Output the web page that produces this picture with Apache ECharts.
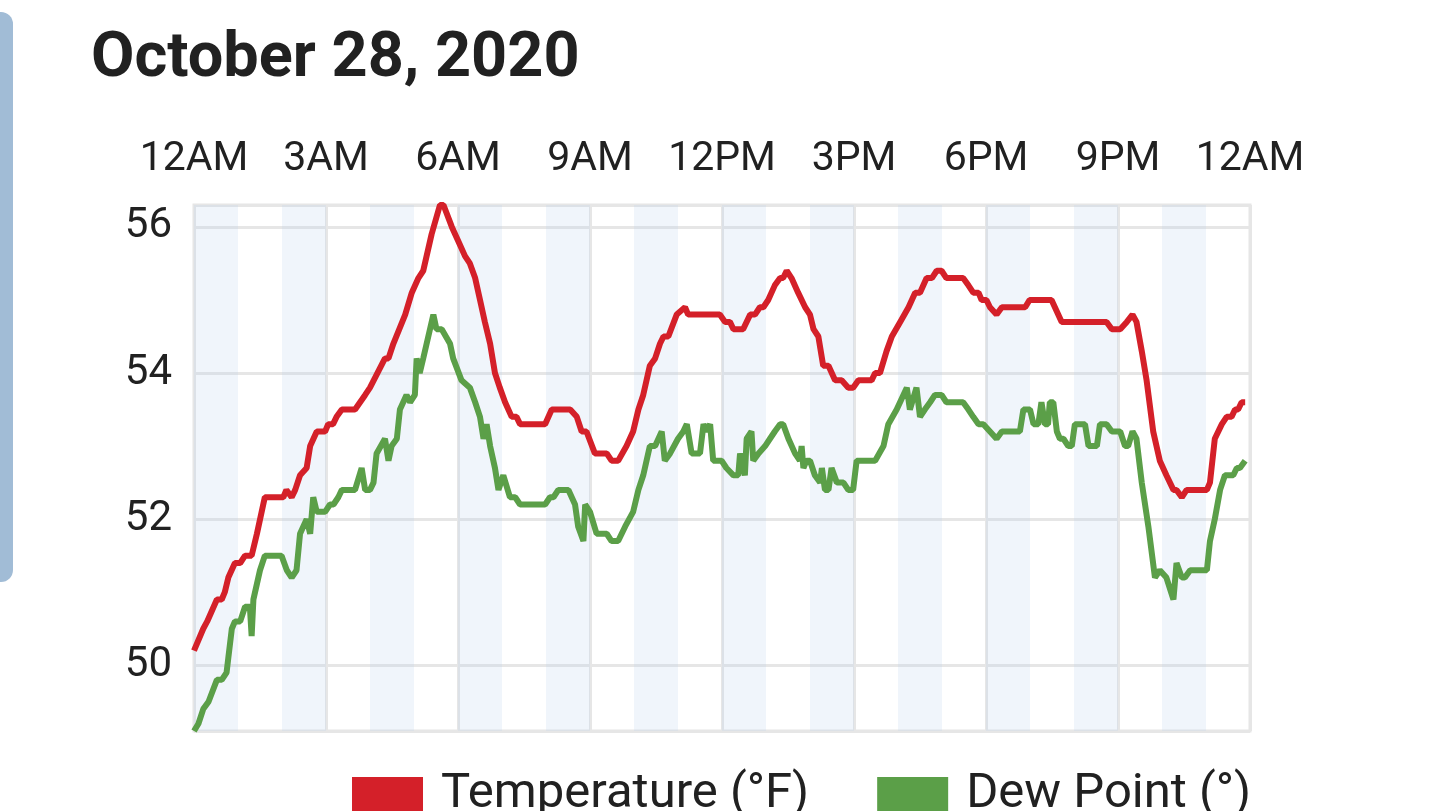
<!DOCTYPE html>
<html>
<head>
<meta charset="utf-8">
<title>October 28, 2020</title>
<script src="https://cdn.jsdelivr.net/npm/echarts@6/dist/echarts.min.js"></script>
<style>
  html, body { margin: 0; padding: 0; background: #fff; }
  #chart { width: 1440px; height: 811px; }
</style>
</head>
<body>
<div id="chart"></div>
<script>
// hours since midnight
const tempHours = [0, 0.21, 0.3, 0.52, 0.63, 0.7, 0.78, 0.93, 1.05, 1.16, 1.31, 1.43, 1.61, 2.03, 2.1, 2.22, 2.3, 2.41,
  2.56, 2.64, 2.79, 2.98, 3.05, 3.16, 3.24, 3.36, 3.66, 3.89, 4.0, 4.34, 4.42, 4.53, 4.8, 4.95, 5.1, 5.21, 5.4, 5.59,
  5.67, 5.86, 6.01, 6.16, 6.27, 6.39, 6.5, 6.61, 6.73, 6.84, 6.95, 7.07, 7.22, 7.33, 7.41, 7.98, 8.13, 8.55, 8.7,
  8.81, 8.92, 9.11, 9.38, 9.49, 9.64, 9.83, 9.98, 10.1, 10.21, 10.36, 10.48, 10.59, 10.67, 10.78, 10.97, 11.16,
  11.23, 11.95, 12.07, 12.18, 12.26, 12.48, 12.64, 12.75, 12.86, 12.94, 13.05, 13.2, 13.32, 13.39, 13.47, 13.58,
  13.73, 13.89, 14.0, 14.08, 14.19, 14.3, 14.42, 14.57, 14.72, 14.87, 14.98, 15.1, 15.4, 15.48, 15.59, 15.74,
  15.86, 16.05, 16.24, 16.39, 16.5, 16.65, 16.77, 16.88, 16.99, 17.1, 17.48, 17.6, 17.71, 17.83, 17.9, 18.01,
  18.09, 18.24, 18.36, 18.89, 18.99, 19.49, 19.72, 20.74, 20.86, 21.05, 21.2, 21.33, 21.42, 21.54, 21.65, 21.8,
  21.95, 22.1, 22.26, 22.33, 22.45, 22.56, 23.02, 23.09, 23.2, 23.36, 23.47, 23.58, 23.66, 23.73, 23.81, 23.89];
const tempValues = [50.2, 50.5, 50.6, 50.9, 50.9, 51.0, 51.2, 51.4, 51.4, 51.5, 51.5, 51.8, 52.3, 52.3, 52.4, 52.3, 52.4, 52.6,
  52.7, 53.0, 53.2, 53.2, 53.3, 53.3, 53.4, 53.5, 53.5, 53.7, 53.8, 54.2, 54.2, 54.4, 54.8, 55.1, 55.3, 55.4, 55.9, 56.3,
  56.3, 56.0, 55.8, 55.6, 55.5, 55.3, 55.0, 54.7, 54.4, 54.0, 53.8, 53.6, 53.4, 53.4, 53.3, 53.3, 53.5, 53.5, 53.4,
  53.2, 53.2, 52.9, 52.9, 52.8, 52.8, 53.0, 53.2, 53.5, 53.7, 54.1, 54.2, 54.4, 54.5, 54.5, 54.8, 54.9,
  54.8, 54.8, 54.7, 54.7, 54.6, 54.6, 54.8, 54.8, 54.9, 54.9, 55.0, 55.2, 55.3, 55.3, 55.4, 55.3,
  55.1, 54.9, 54.8, 54.6, 54.5, 54.1, 54.1, 53.9, 53.9, 53.8, 53.8, 53.9, 53.9, 54.0, 54.0, 54.3,
  54.5, 54.7, 54.9, 55.1, 55.1, 55.3, 55.3, 55.4, 55.4, 55.3, 55.3, 55.2, 55.1, 55.1, 55.0, 55.0,
  54.9, 54.8, 54.9, 54.9, 55.0, 55.0, 54.7, 54.7, 54.6, 54.6, 54.7, 54.8, 54.7, 54.3, 53.9, 53.2,
  52.8, 52.6, 52.4, 52.4, 52.3, 52.4, 52.4, 52.5, 53.1, 53.3, 53.4, 53.4, 53.5, 53.5, 53.6, 53.6];

const dewHours = [0, 0.1, 0.21, 0.33, 0.52, 0.63, 0.74, 0.78, 0.86, 0.93, 1.05, 1.16, 1.27, 1.31, 1.35, 1.5, 1.61, 1.99,
  2.11, 2.22, 2.33, 2.41, 2.56, 2.64, 2.71, 2.79, 2.98, 3.09, 3.17, 3.28, 3.36, 3.66, 3.81, 3.89, 4.0, 4.08, 4.15,
  4.34, 4.42, 4.49, 4.61, 4.68, 4.83, 4.91, 5.02, 5.06, 5.13, 5.21, 5.44, 5.51, 5.63, 5.82, 5.89, 6.08, 6.27,
  6.39, 6.5, 6.58, 6.65, 6.73, 6.84, 6.92, 7.03, 7.18, 7.3, 7.41, 7.98, 8.09, 8.17, 8.28, 8.51, 8.66, 8.73, 8.85,
  8.89, 9.0, 9.15, 9.38, 9.49, 9.64, 9.8, 9.98, 10.1, 10.21, 10.36, 10.48, 10.63, 10.7, 10.82, 11.0, 11.12, 11.2,
  11.31, 11.5, 11.58, 11.65, 11.73, 11.8, 11.99, 12.1, 12.26, 12.37, 12.41, 12.52, 12.56, 12.67, 12.71, 12.83,
  12.98, 13.09, 13.2, 13.32, 13.39, 13.51, 13.66, 13.77, 13.81, 13.85, 13.92, 14.0, 14.11, 14.23, 14.27, 14.34,
  14.42, 14.49, 14.61, 14.76, 14.87, 14.98, 15.06, 15.14, 15.48, 15.67, 15.78, 15.97, 16.2, 16.27, 16.42, 16.5,
  16.61, 16.73, 16.84, 16.99, 17.1, 17.48, 17.6, 17.71, 17.83, 17.94, 18.09, 18.24, 18.36, 18.77, 18.85, 19.0,
  19.08, 19.19, 19.26, 19.34, 19.41, 19.45, 19.53, 19.61, 19.68, 19.76, 19.87, 19.95, 20.02, 20.25, 20.33, 20.52,
  20.59, 20.74, 20.86, 21.05, 21.16, 21.23, 21.33, 21.42, 21.54, 21.69, 21.84, 21.95, 22.1, 22.26, 22.33, 22.45,
  22.52, 22.64, 23.02, 23.09, 23.2, 23.32, 23.43, 23.55, 23.62, 23.7, 23.77, 23.89];
const dewValues = [49.1, 49.2, 49.4, 49.5, 49.8, 49.8, 49.9, 50.1, 50.5, 50.6, 50.6, 50.8, 50.8, 50.4, 50.9, 51.3, 51.5, 51.5,
  51.3, 51.2, 51.3, 51.8, 52.0, 51.8, 52.3, 52.1, 52.1, 52.2, 52.2, 52.3, 52.4, 52.4, 52.7, 52.4, 52.4, 52.5, 52.9,
  53.1, 52.8, 53.0, 53.1, 53.5, 53.7, 53.6, 53.7, 54.2, 54.0, 54.2, 54.8, 54.6, 54.6, 54.4, 54.2, 53.9, 53.8,
  53.6, 53.4, 53.1, 53.3, 53.0, 52.7, 52.4, 52.6, 52.3, 52.3, 52.2, 52.2, 52.3, 52.3, 52.4, 52.4, 52.2, 51.9, 51.7,
  52.2, 52.1, 51.8, 51.8, 51.7, 51.7, 51.9, 52.1, 52.4, 52.6, 53.0, 53.0, 53.2, 52.8, 52.9, 53.1, 53.2, 53.3,
  52.9, 52.9, 53.3, 53.2, 53.3, 52.8, 52.8, 52.7, 52.6, 52.6, 52.9, 52.6, 53.1, 53.2, 52.8, 52.9,
  53.0, 53.1, 53.2, 53.3, 53.3, 53.1, 52.9, 52.8, 53.0, 52.7, 52.8, 52.8, 52.6, 52.5, 52.7, 52.4,
  52.4, 52.7, 52.5, 52.5, 52.4, 52.4, 52.8, 52.8, 52.8, 53.0, 53.3, 53.5, 53.8, 53.5, 53.8, 53.4,
  53.5, 53.6, 53.7, 53.7, 53.6, 53.6, 53.5, 53.4, 53.3, 53.3, 53.2, 53.1, 53.2, 53.2, 53.5, 53.5,
  53.3, 53.3, 53.6, 53.3, 53.3, 53.6, 53.6, 53.2, 53.1, 53.1, 53.0, 53.0, 53.3, 53.3, 53.0, 53.0,
  53.3, 53.3, 53.2, 53.2, 53.0, 53.0, 53.2, 53.1, 52.5, 51.9, 51.2, 51.3, 51.2, 50.9, 51.4, 51.2,
  51.2, 51.3, 51.3, 51.7, 52.0, 52.4, 52.6, 52.6, 52.6, 52.7, 52.7, 52.8];

const tickLabels = ['12AM', '3AM', '6AM', '9AM', '12PM', '3PM', '6PM', '9PM', '12AM'];
const shadedHours = [0, 2, 4, 6, 8, 10, 12, 14, 16, 18, 20, 22];
const seriesNames = ['Temperature (°F)', 'Dew Point (°)'];

const chart = echarts.init(document.getElementById('chart'), null, { renderer: 'canvas' });
const font = 'Roboto, "Noto Sans", sans-serif';
const gridColor = '#e6e6e6';

chart.setOption({
  animation: false,
  textStyle: { fontFamily: font },
  title: {
    text: 'October 28, 2020',
    left: 86,
    top: 24,
    textStyle: { fontSize: 63, fontWeight: 'bold', color: '#212121', fontFamily: font }
  },
  legend: {
    data: seriesNames,
    left: 352,
    top: 770,
    padding: 0,
    icon: 'rect',
    itemWidth: 71,
    itemHeight: 35,
    itemGap: 68,
    textStyle: { fontSize: 49, color: '#212121', padding: [0, 0, 0, 13] }
  },
  grid: {
    left: 194,
    right: 190,
    top: 205,
    bottom: 80,
    show: true,
    borderColor: gridColor,
    borderWidth: 3
  },
  xAxis: {
    type: 'value',
    position: 'top',
    min: 0,
    max: 24,
    interval: 3,
    axisLine: { show: false },
    axisTick: { show: false },
    splitLine: { lineStyle: { color: gridColor, width: 3 } },
    axisLabel: {
      fontSize: 41,
      color: '#212121',
      margin: 25,
      formatter: (v) => tickLabels[Math.round(v / 3)]
    }
  },
  yAxis: {
    type: 'value',
    min: 49.1,
    max: 56.3,
    splitNumber: 4,
    axisLine: { show: false },
    axisTick: { show: false },
    splitLine: { lineStyle: { color: gridColor, width: 3 } },
    axisLabel: {
      fontSize: 42,
      color: '#212121',
      margin: 22,
      padding: [6, 0, 0, 0],
      showMinLabel: false,
      showMaxLabel: false
    }
  },
  graphic: [{
    type: 'rect',
    left: -14,
    top: 12,
    shape: { width: 27, height: 570, r: 12 },
    style: { fill: '#a1bcd6' },
    silent: true
  }],
  series: [
    {
      name: 'bands',
      type: 'line',
      data: [],
      silent: true,
      markArea: {
        silent: true,
        itemStyle: { color: 'rgba(180,205,235,0.2)' },
        data: shadedHours.map((h) => [{ xAxis: h }, { xAxis: h + 1 }])
      }
    },
    {
      name: seriesNames[0],
      type: 'line',
      showSymbol: false,
      color: '#d42029',
      lineStyle: { width: 6, color: '#d42029' },
      data: tempHours.map((h, i) => [h, tempValues[i]])
    },
    {
      name: seriesNames[1],
      type: 'line',
      showSymbol: false,
      color: '#5b9f48',
      lineStyle: { width: 6, color: '#5b9f48' },
      data: dewHours.map((h, i) => [h, dewValues[i]])
    }
  ]
});
</script>
</body>
</html>
